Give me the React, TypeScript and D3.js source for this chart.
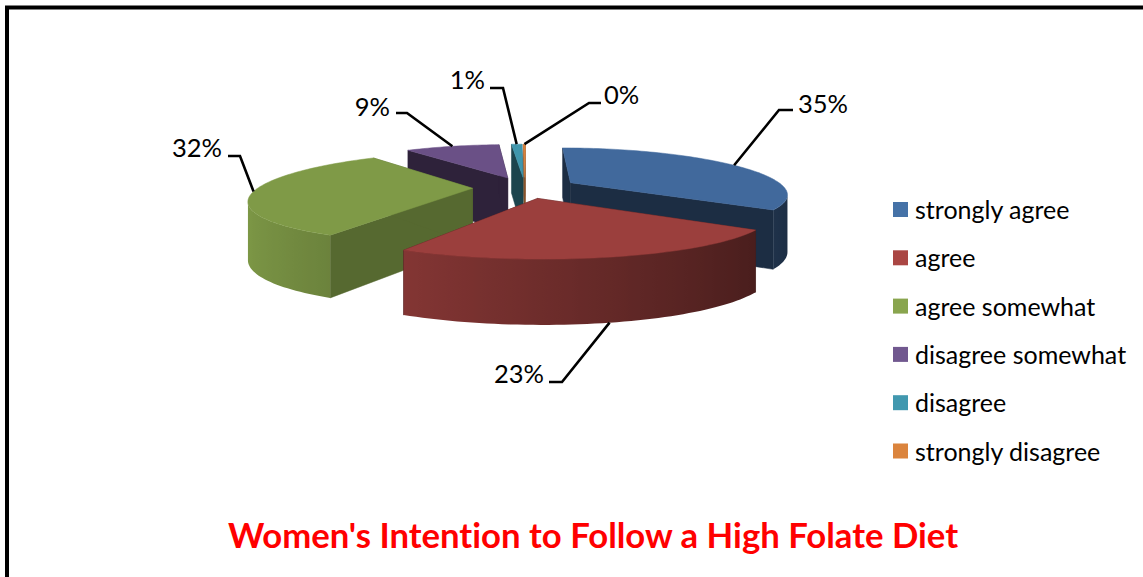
import React from "react";
import * as d3 from "d3";

const categories = [
  "strongly agree",
  "agree",
  "agree somewhat",
  "disagree somewhat",
  "disagree",
  "strongly disagree",
];
const shares = [34.8, 23, 32, 9, 1, 0.2];
const title = "Women's Intention to Follow a High Folate Diet";

const legendColors = ["#4572A7", "#AA4643", "#89A54E", "#71588F", "#4198AF", "#DB843D"];
const faceColors = ["#41699c", "#9b3f3d", "#7f9a47", "#6a5086", "#3f96ac", "#d8813b"];
const edgeShades = [0.43, 0.43, 0.68, 0.43, 0.45, 0.6];

// Where each leader line bends, then where it ends beside its label.
const leaderBends = [
  [[779, 110], [793, 110]],
  [[562, 382], [549, 382]],
  [[240, 156], [228, 156]],
  [[407, 113], [396, 113]],
  [[503, 88], [490, 88]],
  [[589, 103], [601, 103]],
];
const labelSpots = [
  { x: 798, y: 113, anchor: "start" },
  { x: 544, y: 383, anchor: "end" },
  { x: 222, y: 157, anchor: "end" },
  { x: 390, y: 116, anchor: "end" },
  { x: 485, y: 89, anchor: "end" },
  { x: 604, y: 104, anchor: "start" },
];

// Perspective camera over the tilted disc.
const cx = 525;
const cy = 187.5;
const rx = 214;
const ry = 43.5;
const perspX = 0.235;
const perspY = 0.2;
const explode = 0.245;
const thickness = 56;
const thickPersp = 0.12;
const cameraZ = -1 / perspX;

type P = [number, number];

const xScale = d3.scaleLinear().domain([0, 1]).range([cx, cx + rx]);
const yScale = d3.scaleLinear().domain([0, 1]).range([cy, cy - ry]);

const project = (x: number, z: number): P => [
  xScale(x / (1 + perspX * z)),
  yScale(z / (1 + perspY * z)),
];
const drop = (z: number) => thickness / (1 + thickPersp * z);

const pathOf = d3.line<P>().curve(d3.curveLinear);

const pieAngles = d3
  .pie<number>()
  .sort(null)
  .value((d) => d)
  .startAngle((0.2 * Math.PI) / 180)
  .endAngle(2 * Math.PI + (0.2 * Math.PI) / 180)(shares);

const shade = (color: string, k: number) => {
  const c = d3.rgb(color);
  return d3.rgb(c.r * k, c.g * k, c.b * k).formatHex();
};

type Stop = { offset: number; color: string };
type Face = { d: string; fill: string; stops?: Stop[]; x1?: number; x2?: number };

const buildSlice = (i: number): Face[] => {
  const { startAngle: a0, endAngle: a1 } = pieAngles[i];
  const mid = (a0 + a1) / 2;
  const ox = explode * Math.sin(mid);
  const oz = explode * Math.cos(mid);
  const world = (t: number, r = 1): [number, number] => [
    ox + r * Math.sin(t),
    oz + r * Math.cos(t),
  ];
  const top = (x: number, z: number) => project(x, z);
  const bottom = (x: number, z: number): P => {
    const [px, py] = project(x, z);
    return [px, py + drop(z)];
  };
  const base = faceColors[i];
  const faces: Face[] = [];

  // Flat cut faces on either side of the wedge.
  const apex = world(0, 0);
  [a0, a1].forEach((a) => {
    const rim = world(a);
    faces.push({
      d: pathOf([top(...apex), top(...rim), bottom(...rim), bottom(...apex)]) + "Z",
      fill: shade(base, edgeShades[i]),
    });
  });

  // Curved outer wall: only the part turned toward the camera, lit by direction.
  const steps = Math.max(2, Math.ceil(((a1 - a0) * 180) / Math.PI / 1.5));
  const visible = d3
    .range(steps + 1)
    .map((k) => a0 + ((a1 - a0) * k) / steps)
    .filter((t) => {
      const [x, z] = world(t);
      return -Math.sin(t) * x + Math.cos(t) * (cameraZ - z) > 0;
    });
  if (visible.length > 1) {
    const upper = visible.map((t) => top(...world(t)));
    const lower = visible.map((t) => bottom(...world(t)));
    const xs = upper.map((p) => p[0]);
    const x1 = d3.min(xs) as number;
    const x2 = d3.max(xs) as number;
    const offset = d3.scaleLinear().domain([x1, x2]).range([0, 1]);
    const stops = visible
      .map((t, k) => ({
        offset: offset(xs[k]),
        color: shade(base, 0.71 - 0.29 * Math.sin(t)),
      }))
      .sort((a, b) => a.offset - b.offset);
    faces.push({
      d: pathOf([...upper, ...lower.reverse()]) + "Z",
      fill: "",
      stops,
      x1,
      x2,
    });
  }

  // Top of the wedge.
  const fine = d3.range(steps + 1).map((k) => a0 + ((a1 - a0) * k) / steps);
  faces.push({
    d: pathOf([top(...apex), ...fine.map((t) => top(...world(t)))]) + "Z",
    fill: base,
  });
  return faces;
};

// Leader start: the rim at the middle of a slice, or the wall's lower rim for front slices.
const leaderStart = (i: number): P => {
  const mid = (pieAngles[i].startAngle + pieAngles[i].endAngle) / 2;
  const x = (1 + explode) * Math.sin(mid);
  const z = (1 + explode) * Math.cos(mid);
  const [px, py] = project(x, z);
  return Math.cos(mid) < -0.5 ? [px, py + drop(z)] : [px, py];
};

// Back slices first so nearer ones paint over them.
const paintOrder = [5, 4, 3, 0, 2, 1];
const font = "Lato, 'Open Sans', sans-serif";

export default function App() {
  return (
    <svg
      width={1143}
      height={577}
      style={{ position: "absolute", left: 0, top: 0, background: "#fff", fontVariantLigatures: "none" }}
      fontFamily={font}
    >
      <path d="M7 577V7.5H1143" fill="none" stroke="#000" strokeWidth={4} />

      {paintOrder.map((i) => (
        <g key={categories[i]}>
          {buildSlice(i).map((f, k) => {
            const id = `wall-${i}-${k}`;
            return (
              <React.Fragment key={k}>
                {f.stops && (
                  <linearGradient id={id} gradientUnits="userSpaceOnUse" x1={f.x1} x2={f.x2} y1={0} y2={0}>
                    {f.stops.map((s, n) => (
                      <stop key={n} offset={s.offset} stopColor={s.color} />
                    ))}
                  </linearGradient>
                )}
                <path
                  d={f.d}
                  fill={f.stops ? `url(#${id})` : f.fill}
                  stroke={f.stops ? "none" : f.fill}
                  strokeWidth={0.5}
                />
              </React.Fragment>
            );
          })}
        </g>
      ))}

      {categories.map((c, i) => (
        <g key={c}>
          <path
            d={pathOf([leaderStart(i), ...(leaderBends[i] as P[])]) as string}
            fill="none"
            stroke="#000"
            strokeWidth={2.6}
          />
          <text
            x={labelSpots[i].x}
            y={labelSpots[i].y}
            textAnchor={labelSpots[i].anchor as "start" | "end"}
            fontSize={25.5}
            fill="#000"
          >
            {`${Math.round(shares[i])}%`}
          </text>
        </g>
      ))}

      {categories.map((c, i) => {
        const y = 202 + i * 48.3;
        return (
          <g key={c}>
            <rect x={893} y={y} width={15} height={15} fill={legendColors[i]} />
            <text x={915} y={y + 17} fontSize={25} fill="#000">
              {c}
            </text>
          </g>
        );
      })}

      <text x={593} y={548} textAnchor="middle" fontSize={34.7} fontWeight={700} fill="#ff0000">
        {title}
      </text>
    </svg>
  );
}
